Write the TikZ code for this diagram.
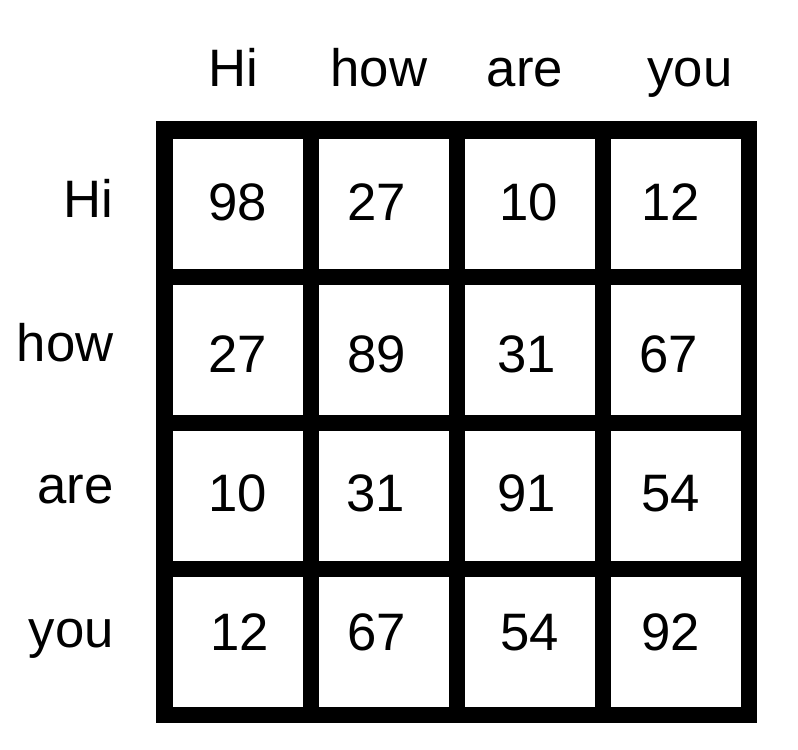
\documentclass[tikz,border=0pt]{standalone}
\usepackage{fontspec}
\setmainfont{Liberation Sans}
\usepackage{tikz}

\begin{document}
\begin{tikzpicture}[x=0.02cm,y=-0.02cm,
    every node/.style={inner sep=0pt,font=\fontsize{30}{36}\selectfont},
    cell/.style={fill=white,minimum size=2.6cm},
    lab/.style={anchor=base},
    rowlab/.style={anchor=base east}]
  \useasboundingbox (0,0) rectangle (798,750);
  \fill[black] (156,121) rectangle (757,723);
  % cells
  \node[cell](c11) at (238,204) {}; \node[cell](c12) at (384,204) {};
  \node[cell](c13) at (530,204) {}; \node[cell](c14) at (676,204) {};
  \node[cell](c21) at (238,350) {}; \node[cell](c22) at (384,350) {};
  \node[cell](c23) at (530,350) {}; \node[cell](c24) at (676,350) {};
  \node[cell](c31) at (238,496) {}; \node[cell](c32) at (384,496) {};
  \node[cell](c33) at (530,496) {}; \node[cell](c34) at (676,496) {};
  \node[cell](c41) at (238,642) {}; \node[cell](c42) at (384,642) {};
  \node[cell](c43) at (530,642) {}; \node[cell](c44) at (676,642) {};
  % values
  \node[lab](v11) at (238,220) {98}; \node[lab](v12) at (377,220) {27};
  \node[lab](v13) at (529,220) {10}; \node[lab](v14) at (671,220) {12};
  \node[lab](v21) at (238,372) {27}; \node[lab](v22) at (377,372) {89};
  \node[lab](v23) at (527,372) {31}; \node[lab](v24) at (669,372) {67};
  \node[lab](v31) at (238,511) {10}; \node[lab](v32) at (376,511) {31};
  \node[lab](v33) at (527,511) {91}; \node[lab](v34) at (671,511) {54};
  \node[lab](v41) at (240,650) {12}; \node[lab](v42) at (377,650) {67};
  \node[lab](v43) at (530,650) {54}; \node[lab](v44) at (671,650) {92};
  % column words
  \node[lab](cHi) at (233,87) {Hi};
  \node[lab](chow) at (379,87) {how};
  \node[lab](care) at (525,87) {are};
  \node[lab](cyou) at (690,87) {you};
  % row words
  \node[rowlab](rHi) at (114,217) {Hi};
  \node[rowlab](rhow) at (114,361) {how};
  \node[rowlab](rare) at (114,503) {are};
  \node[rowlab](ryou) at (114,647) {you};
\end{tikzpicture}
\end{document}
